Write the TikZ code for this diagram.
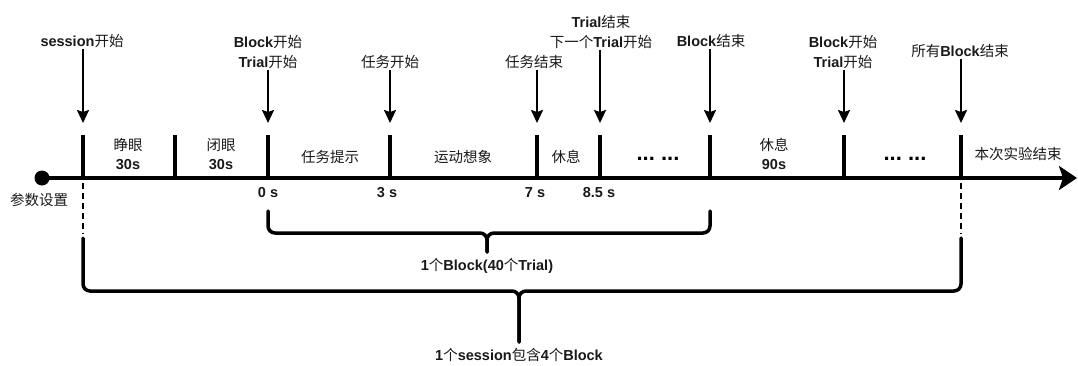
\documentclass[tikz,border=0pt]{standalone}
\usepackage{fontspec}
\setmainfont{Liberation Sans}
\newfontfamily\cjk{Noto Sans CJK SC}
\usetikzlibrary{arrows.meta}
\newcommand\zh[1]{{\cjk\mdseries #1}}
\begin{document}
\begin{tikzpicture}[x=1pt,y=1pt,
  lbl/.style={font=\fontsize{14.5}{19.5}\selectfont\bfseries, align=center, inner sep=1pt, text=black!90},
  dotslbl/.style={font=\fontsize{22}{22}\selectfont\bfseries, inner sep=0pt},
  tickline/.style={line width=4pt},
  axisline/.style={line width=4pt, -{Stealth[length=18pt,width=24pt,inset=4pt]}},
  pointer/.style={line width=2pt, -{Stealth[length=13pt,width=12pt,inset=2pt]}},
  bracepath/.style={line width=3.5pt, rounded corners=7pt, line cap=round},
  guide/.style={line width=2pt, dash pattern=on 6pt off 4pt}]
\useasboundingbox (0,0) rectangle (1078,365);

% axis
\node[circle, fill, minimum size=15pt, inner sep=0pt] (dot) at (42,187) {};
\coordinate (axend) at (1077,187);
\draw[axisline] (dot.center) -- (axend);

% ticks
\foreach \n/\x in {k0/83,k1/175,k2/268,k3/390,k4/537,k5/600,k6/710,k7/844,k8/961}{
  \coordinate (\n) at (\x,187);
  \coordinate (\n top) at (\x,230);
  \coordinate (\n tip) at (\x,242);
  \draw[tickline] (\n) -- (\n top);
}

% top labels
\node[lbl] (Lsess) at (82,324) {session\zh{开始}};
\node[lbl] (Lblk1) at (268,313) {Block\zh{开始}\\Trial\zh{开始}};
\node[lbl] (Ltask1) at (390,303) {\zh{任务开始}};
\node[lbl] (Ltask2) at (534,303) {\zh{任务结束}};
\node[lbl] (Ltrial) at (601,333) {Trial\zh{结束}\\\zh{下一个}Trial\zh{开始}};
\node[lbl] (Lblkend) at (711,324) {Block\zh{结束}};
\node[lbl] (Lblk2) at (843,313) {Block\zh{开始}\\Trial\zh{开始}};
\node[lbl] (Lall) at (960,314) {\zh{所有}Block\zh{结束}};

\draw[pointer] (Lsess.south -| k0tip) -- (k0tip);
\draw[pointer] (Lblk1.south -| k2tip) -- (k2tip);
\draw[pointer] (Ltask1.south -| k3tip) -- (k3tip);
\draw[pointer] (Ltask2.south -| k4tip) -- (k4tip);
\draw[pointer] (Ltrial.south -| k5tip) -- (k5tip);
\draw[pointer] (Lblkend.south -| k6tip) -- (k6tip);
\draw[pointer] (Lblk2.south -| k7tip) -- (k7tip);
\draw[pointer] (Lall.south -| k8tip) -- (k8tip);

% segment labels
\node[lbl] (s1) at (128,211) {\zh{睁眼}\\30s};
\node[lbl] (s2) at (221,211) {\zh{闭眼}\\30s};
\node[lbl] (s3) at (330,208) {\zh{任务提示}};
\node[lbl] (s4) at (463,208) {\zh{运动想象}};
\node[lbl] (s5) at (566,208) {\zh{休息}};
\node[dotslbl] (s6) at (658,206) {...\ ...};
\node[lbl] (s7) at (774,211) {\zh{休息}\\90s};
\node[dotslbl] (s8) at (905,206) {...\ ...};
\node[lbl] (s9) at (1018,211) {\zh{本次实验结束}};

% below labels
\node[lbl] (param) at (39,165) {\zh{参数设置}};
\node[lbl] (t0) at (268,172) {0 s};
\node[lbl] (t3) at (387,172) {3 s};
\node[lbl] (t7) at (535,172) {7 s};
\node[lbl] (t85) at (599,172) {8.5 s};

% dashed guides
\coordinate (g0a) at (83,182); \coordinate (g0b) at (83,131);
\coordinate (g8a) at (961,182); \coordinate (g8b) at (961,131);
\draw[guide] (g0a) -- (g0b);
\draw[guide] (g8a) -- (g8b);

% block brace
\coordinate (bl) at (268,154); \coordinate (br) at (710,154);
\coordinate (bc) at (487,132); \coordinate (btip) at (487,113);
\draw[bracepath] (bl) |- (bc) -- (btip);
\draw[bracepath] (br) |- (bc) -- (btip);
\node[lbl] (blabel) at (487,99) {1\zh{个}Block(40\zh{个}Trial)};

% session brace
\coordinate (sl) at (83,127); \coordinate (sr) at (961,127);
\coordinate (sc) at (519,74); \coordinate (stip) at (519,23);
\draw[bracepath] (sl) |- (sc) -- (stip);
\draw[bracepath] (sr) |- (sc) -- (stip);
\node[lbl] (slabel) at (519,10) {1\zh{个}session\zh{包含}4\zh{个}Block};
\end{tikzpicture}
\end{document}
